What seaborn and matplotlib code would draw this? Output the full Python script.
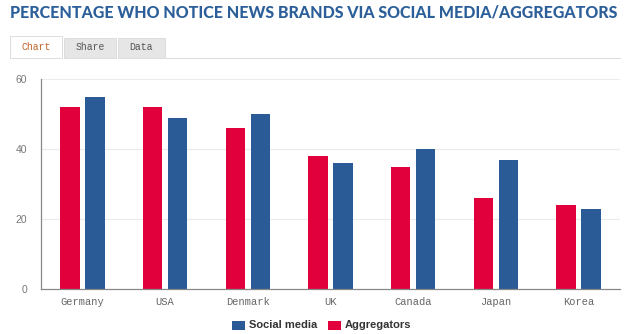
import matplotlib
matplotlib.use("Agg")
import matplotlib.pyplot as plt
from matplotlib.patches import Rectangle
import seaborn as sns
import pandas as pd
import numpy as np

countries = ["Germany", "USA", "Denmark", "UK", "Canada", "Japan", "Korea"]
aggregators = [52, 52, 46, 38, 35, 26, 24]
social_media = [55, 49, 50, 36, 40, 37, 23]
series_names = ["Aggregators", "Social media"]
yticks = [0, 20, 40, 60]
title = "PERCENTAGE WHO NOTICE NEWS BRANDS VIA SOCIAL MEDIA/AGGREGATORS"
tabs = ["Chart", "Share", "Data"]

RED = "#e2003c"
BLUE = "#2a5b96"

df = pd.DataFrame({
    "country": countries * 2,
    "series": [series_names[0]] * len(countries) + [series_names[1]] * len(countries),
    "value": aggregators + social_media,
})

sns.set_style("white")
plt.rcParams["font.family"] = ["Liberation Sans", "DejaVu Sans"]

W, H = 638, 334
fig = plt.figure(figsize=(W / 100, H / 100), dpi=100)
ax = fig.add_axes([41 / W, 45 / H, (620 - 41) / W, (289 - 79) / H])

sns.barplot(data=df, x="country", y="value", hue="series", order=countries,
            hue_order=series_names, palette=[RED, BLUE], width=0.605, gap=0.22,
            saturation=1, ax=ax, legend=False, edgecolor="none")

ax.set_ylim(0, 60)
ax.set_xlim(-0.5, len(countries) - 0.5)
ax.set_yticks(yticks)
ax.set_yticklabels([str(v) for v in yticks], color="#777777", fontsize=7.5)
ax.set_xlabel("")
ax.set_ylabel("")
for y in yticks[1:]:
    ax.axhline(y, color="#ebebeb", lw=0.8, zorder=0)

for s in ["top", "right"]:
    ax.spines[s].set_visible(False)
for s in ["left", "bottom"]:
    ax.spines[s].set_color("#888888")
    ax.spines[s].set_linewidth(0.9)

ax.tick_params(axis="y", length=4, width=0.8, color="#888888", pad=6, direction="out")
ax.tick_params(axis="x", which="major", length=0, pad=6)
ax.set_xticks(np.arange(len(countries) + 1) - 0.5, minor=True)
ax.tick_params(axis="x", which="minor", length=3, width=0.8, color="#888888", direction="out")
ax.set_xticklabels(countries, fontsize=7.5, color="#666666",
                   family=["Liberation Mono", "DejaVu Sans Mono"])

# title
t = fig.text(10 / W, 1 - 12.5 / H, title, fontsize=13, fontweight="black",
             color="#2c5f99", va="center", ha="left", family=["Lato", "Liberation Sans"])
fig.canvas.draw()
bb = t.get_window_extent()
t.set_fontsize(13 * (607 / bb.width))

# tabs
tab_boxes = [(10, 62), (64, 116), (118, 165)]
for (x0, x1), name in zip(tab_boxes, tabs):
    active = name == "Chart"
    y0 = 58
    y1 = 36 if active else 38
    r = Rectangle((x0 / W, 1 - y0 / H), (x1 - x0) / W, (y0 - y1) / H,
                  transform=fig.transFigure, facecolor="white" if active else "#e6e6e6",
                  edgecolor="#dddddd", lw=0.7)
    fig.add_artist(r)
    fig.text((x0 + x1) / 2 / W, 1 - 47.5 / H, name, fontsize=7,
             color="#c0652a" if active else "#555555", ha="center", va="center",
             family=["Liberation Mono", "DejaVu Sans Mono"])
fig.add_artist(plt.Line2D([165 / W, 620 / W], [1 - 58 / H, 1 - 58 / H],
                          transform=fig.transFigure, color="#dddddd", lw=0.8))

# legend
leg_items = [("Social media", BLUE, 232), ("Aggregators", RED, 328)]
for name, col, x in leg_items:
    fig.add_artist(Rectangle((x / W, 1 - 330 / H), 13 / W, 9 / H,
                             transform=fig.transFigure, facecolor=col, edgecolor="none"))
    fig.text((x + 17) / W, 1 - 325.5 / H, name, fontsize=8, fontweight="bold",
             color="#333333", ha="left", va="center")

fig.savefig("out.png", dpi=100, facecolor="white")
